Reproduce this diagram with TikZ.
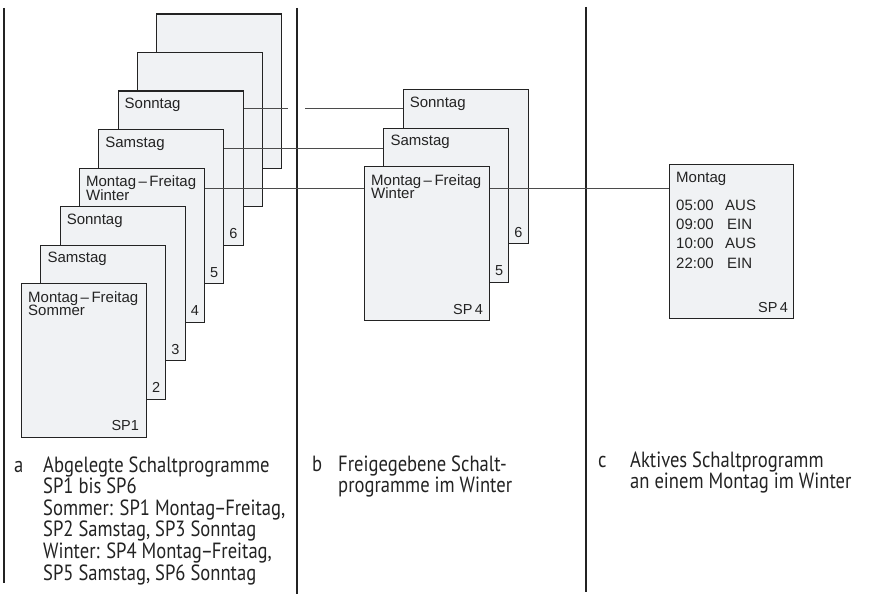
\documentclass[tikz,border=0pt]{standalone}
\usepackage{fontspec}
\setmainfont{Liberation Sans}
\newfontfamily\capfont[FakeStretch=0.845]{PT Sans}
\newcommand{\cdash}{\kern-1.2pt–\kern-1.2pt}
\definecolor{cardfill}{RGB}{240,242,244}
\definecolor{ink}{RGB}{35,35,35}
\definecolor{linec}{RGB}{75,75,75}
\begin{document}
\begin{tikzpicture}[x=1pt,y=-1pt,
  card/.style={draw=ink, line width=1.15pt, fill=cardfill, minimum width=125pt, minimum height=154pt, anchor=north west, inner sep=0pt},
  lbl/.style={font=\fontsize{15}{14}\selectfont, text=ink, inner sep=0pt, anchor=base west},
  num/.style={font=\fontsize{14.5}{14}\selectfont, text=ink, inner sep=0pt, anchor=base east},
  conn/.style={draw=linec, line width=0.8pt},
  divider/.style={draw=ink, line width=1.3pt},
  captxt/.style={font=\capfont\fontsize{22}{21.6}\selectfont, text=ink, inner sep=0pt, anchor=base west}]

\useasboundingbox[fill=white] (0,0) rectangle (873,594);

% dividers
\coordinate (d1t) at (4,8);   \coordinate (d1b) at (4,583);
\coordinate (d2t) at (297,8); \coordinate (d2b) at (297,594);
\coordinate (d3t) at (586,7); \coordinate (d3b) at (586,592);
\draw[divider] (d1t) -- (d1b);
\draw[divider] (d2t) -- (d2b);
\draw[divider] (d3t) -- (d3b);

% panel a cards
\foreach \k in {8,7,...,1}
  \node[card] (a\k) at ({21+19.3*(\k-1)},{283-38.5*(\k-1)}) {};

\node[lbl] (a6t) at ([xshift=7pt,yshift=-18pt]a6.north west) {Sonntag};
\node[lbl] (a5t) at ([xshift=7pt,yshift=-18pt]a5.north west) {Samstag};
\node[lbl] (a4t) at ([xshift=7pt,yshift=-19pt]a4.north west) {Montag\,–\,Freitag};
\node[lbl] (a4u) at ([xshift=7pt,yshift=-32.9pt]a4.north west) {Winter};
\node[lbl] (a3t) at ([xshift=7pt,yshift=-18pt]a3.north west) {Sonntag};
\node[lbl] (a2t) at ([xshift=7pt,yshift=-18pt]a2.north west) {Samstag};
\node[lbl] (a1t) at ([xshift=7pt,yshift=-19pt]a1.north west) {Montag\,–\,Freitag};
\node[lbl] (a1u) at ([xshift=7pt,yshift=-32.9pt]a1.north west) {Sommer};

\node[num] (a6n) at ([xshift=-6pt,yshift=7pt]a6.south east) {6};
\node[num] (a5n) at ([xshift=-6pt,yshift=7pt]a5.south east) {5};
\node[num] (a4n) at ([xshift=-6pt,yshift=7pt]a4.south east) {4};
\node[num] (a3n) at ([xshift=-6pt,yshift=7pt]a3.south east) {3};
\node[num] (a2n) at ([xshift=-6pt,yshift=7pt]a2.south east) {2};
\node[num] (a1n) at ([xshift=-8pt,yshift=8pt]a1.south east) {SP1};

% panel b cards
\node[card] (b6) at (402.6,89) {};
\node[card] (b5) at (383.3,127.5) {};
\node[card] (b4) at (364,166) {};
\node[lbl] (b6t) at ([xshift=7pt,yshift=-18pt]b6.north west) {Sonntag};
\node[lbl] (b5t) at ([xshift=7pt,yshift=-18pt]b5.north west) {Samstag};
\node[lbl] (b4t) at ([xshift=7pt,yshift=-19pt]b4.north west) {Montag\,–\,Freitag};
\node[lbl] (b4u) at ([xshift=7pt,yshift=-32.9pt]b4.north west) {Winter};
\node[num] (b6n) at ([xshift=-6pt,yshift=7pt]b6.south east) {6};
\node[num] (b5n) at ([xshift=-6pt,yshift=7pt]b5.south east) {5};
\node[num] (b4n) at ([xshift=-7pt,yshift=7pt]b4.south east) {SP\,4};

% panel c card
\node[card, minimum width=124pt] (c) at (669,164) {};
\node[lbl] (ct) at ([xshift=7pt,yshift=-18pt]c.north west) {Montag};
\node[lbl] (ct1) at ([xshift=7pt,yshift=-46pt]c.north west) {05:00};
\node[lbl] (ct2) at ([xshift=7pt,yshift=-65.3pt]c.north west) {09:00};
\node[lbl] (ct3) at ([xshift=7pt,yshift=-84.6pt]c.north west) {10:00};
\node[lbl] (ct4) at ([xshift=7pt,yshift=-104pt]c.north west) {22:00};
\node[lbl] (cs1) at ([xshift=56pt,yshift=-46pt]c.north west) {AUS};
\node[lbl] (cs2) at ([xshift=58pt,yshift=-65.3pt]c.north west) {EIN};
\node[lbl] (cs3) at ([xshift=56pt,yshift=-84.6pt]c.north west) {AUS};
\node[lbl] (cs4) at ([xshift=58pt,yshift=-104pt]c.north west) {EIN};
\node[num] (cn) at ([xshift=-6pt,yshift=7pt]c.south east) {SP\,4};

% connectors
\coordinate (ySo) at (0,108);
\coordinate (ySa) at (0,148);
\coordinate (yMF) at (0,188);
\coordinate (gapL) at (288,108);
\coordinate (gapR) at (305,108);
\draw[conn] (a6.east |- ySo) -- (gapL);
\draw[conn] (gapR) -- (b6.west |- ySo);
\draw[conn] (a5.east |- ySa) -- (b5.west |- ySa);
\draw[conn] (a4.east |- yMF) -- (b4.west |- yMF);
\draw[conn] (b4.east |- yMF) -- (c.west |- yMF);

% captions
\node[captxt] (capa) at (14,472) {a};
\node[captxt] (capa1) at (43,472) {Abgelegte Schaltprogramme};
\node[captxt] (capa2) at (43,493.6) {SP1 bis SP6};
\node[captxt] (capa3) at (43,515.2) {Sommer: SP1 Montag\cdash Freitag,};
\node[captxt] (capa4) at (43,536.8) {SP2 Samstag, SP3 Sonntag};
\node[captxt] (capa5) at (43,558.4) {Winter: SP4 Montag\cdash Freitag,};
\node[captxt] (capa6) at (43,580) {SP5 Samstag, SP6 Sonntag};

\node[captxt] (capb) at (312,471) {b};
\node[captxt] (capb1) at (338,471) {Freigegebene Schalt-};
\node[captxt] (capb2) at (338,492.6) {programme im Winter};

\node[captxt] (capc) at (598,467) {c};
\node[captxt] (capc1) at (630,467) {Aktives Schaltprogramm};
\node[captxt] (capc2) at (630,488.6) {an einem Montag im Winter};
\end{tikzpicture}
\end{document}
